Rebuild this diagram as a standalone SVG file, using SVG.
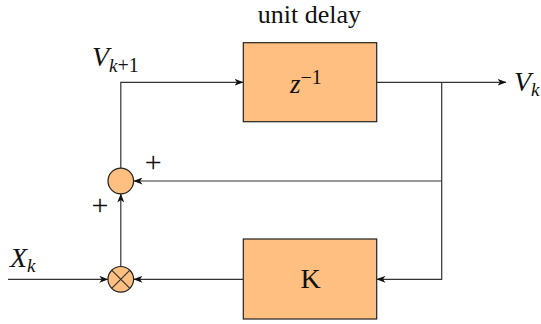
<svg xmlns="http://www.w3.org/2000/svg" width="541" height="324" viewBox="0 0 541 324">
<defs>
<style>
.blk{fill:#FFBF80;stroke:#222;stroke-width:1.2}
.con{fill:none;stroke:#333;stroke-width:1.2}
.t{font-family:"Liberation Serif","DejaVu Serif",serif;fill:#111}
.m{font-style:italic}
</style>
<marker id="ah" markerWidth="9" markerHeight="7" refX="8.5" refY="3.5" orient="auto" markerUnits="userSpaceOnUse">
<path d="M0,0 L9,3.5 L0,7 L2.5,3.5 z" fill="#111"/>
</marker>
</defs>
<rect width="541" height="324" fill="#fff"/>
<g id="connectors">
<path class="con" d="M120.8,168 V82.3 H243" marker-end="url(#ah)"/>
<path class="con" d="M376.7,82.3 H506" marker-end="url(#ah)"/>
<path class="con" d="M441.7,82.3 V279.3 H377" marker-end="url(#ah)"/>
<path class="con" d="M441.7,181 H134" marker-end="url(#ah)"/>
<path class="con" d="M8,279.3 H107.8" marker-end="url(#ah)"/>
<path class="con" d="M243,279.3 H134" marker-end="url(#ah)"/>
<path class="con" d="M120.8,266.3 V194" marker-end="url(#ah)"/>
</g>
<g id="delay">
<rect class="blk" x="243.3" y="42.7" width="133.4" height="79"/>
<text class="t m" x="290" y="93.3" font-size="27">z<tspan font-style="normal" font-size="20" dy="-9">−1</tspan></text>
</g>
<text class="t" x="309.5" y="22.7" font-size="26" text-anchor="middle">unit delay</text>
<g id="gain">
<rect class="blk" x="243.3" y="239" width="133.4" height="80"/>
<text class="t" x="310.5" y="288" font-size="28" text-anchor="middle">K</text>
</g>
<g id="sum">
<circle class="blk" cx="120.8" cy="181" r="12.8"/>
</g>
<g id="mult">
<circle class="blk" cx="120.8" cy="279.3" r="12.8"/>
<path class="con" d="M111.7,270.2 L129.9,288.4 M129.9,270.2 L111.7,288.4"/>
</g>
<g id="labels">
<text class="t m" x="92" y="66" font-size="28">V<tspan font-size="19" dy="5.5">k</tspan><tspan font-style="normal" font-size="20">+1</tspan></text>
<text class="t m" x="514" y="90.7" font-size="28">V<tspan font-size="19" dy="5.5">k</tspan></text>
<text class="t m" x="10" y="266.7" font-size="28">X<tspan font-size="19" dy="5">k</tspan></text>
<text class="t" x="153.3" y="171.5" font-size="30" text-anchor="middle">+</text>
<text class="t" x="100" y="214.8" font-size="30" text-anchor="middle">+</text>
</g>
</svg>
